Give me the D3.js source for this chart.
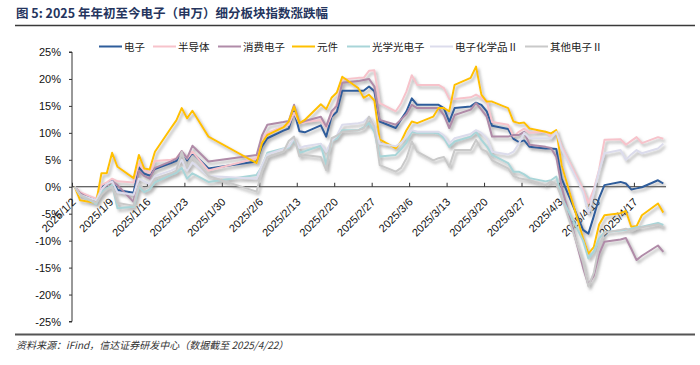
<!DOCTYPE html>
<html>
<head>
<meta charset="utf-8">
<script src="https://cdn.jsdelivr.net/npm/d3@7"></script>
<style>
  body { margin: 0; background: #fff; }
  svg text { font-family: "Liberation Sans", Arial, "Noto Sans CJK SC", sans-serif; }
  .cjk { font-family: "Noto Sans CJK SC", sans-serif; }
</style>
</head>
<body>
<svg id="chart" width="700" height="365"></svg>
<script>
const dates = [
  '2025-01-02','2025-01-03','2025-01-06','2025-01-07','2025-01-08','2025-01-09','2025-01-10','2025-01-13','2025-01-14','2025-01-15',
  '2025-01-16','2025-01-17','2025-01-20','2025-01-21','2025-01-22','2025-01-23','2025-01-24','2025-01-27',
  '2025-02-05','2025-02-06','2025-02-07','2025-02-10','2025-02-11','2025-02-12','2025-02-13','2025-02-14','2025-02-17','2025-02-18',
  '2025-02-19','2025-02-20','2025-02-21','2025-02-24','2025-02-25','2025-02-26','2025-02-27','2025-02-28',
  '2025-03-03','2025-03-04','2025-03-05','2025-03-06','2025-03-07','2025-03-10','2025-03-11','2025-03-12','2025-03-13','2025-03-14',
  '2025-03-17','2025-03-18','2025-03-19','2025-03-20','2025-03-21','2025-03-24','2025-03-25','2025-03-26','2025-03-27','2025-03-28','2025-03-31',
  '2025-04-01','2025-04-02','2025-04-03','2025-04-07','2025-04-08','2025-04-09','2025-04-10','2025-04-11','2025-04-14','2025-04-15',
  '2025-04-16','2025-04-17','2025-04-18','2025-04-21','2025-04-22'
];

// % change since start of year, one value per trading day
const dianzi = [
  0, -1.4, -2.5, 0.0, 0.6, 1.2, -0.6, -1.1, 3.6, 2.4, 2.1, 3.3, 4.4, 4.8, 6.3, 4.9, 6.3, 3.4,
  4.7, 7.5, 9.0, 10.4, 10.8, 14.0, 10.3, 10.1, 11.4, 9.3, 13.0, 13.9, 17.8, 17.8, 17.8, 18.6, 17.7, 12.1,
  10.9, 12.5, 14.0, 16.4, 15.2, 15.2, 15.2, 14.6, 12.1, 14.6, 14.9, 15.6, 15.2, 14.0, 11.3, 10.7, 8.9, 8.3, 8.6, 7.4, 7.1,
  7.1, 7.0, 1.5, -8.0, -8.7, -5.5, -2.1, 0.3, 0.9, 0.6, -0.5, -0.3, -0.1, 1.2, 0.6
];
const bandaoti = [
  0, -1.0, -2.2, 0.3, 0.8, 1.5, 1.0, 0.8, 4.3, 3.0, 2.5, 4.8, 5.0, 5.3, 6.6, 5.2, 6.5, 3.0,
  5.3, 9.0, 10.0, 11.2, 11.5, 13.7, 11.8, 12.0, 12.4, 11.0, 13.3, 15.5, 19.9, 20.2, 20.2, 21.5, 21.6, 15.5,
  14.0, 15.5, 17.7, 20.7, 18.9, 18.9, 18.9, 18.3, 16.3, 16.3, 16.6, 17.1, 16.5, 15.8, 12.0, 11.5, 9.3, 10.2, 10.8, 10.0, 10.2,
  9.3, 10.2, 7.5, -0.5, -3.0, -0.5, 3.2, 8.7, 8.8, 7.8, 8.5, 9.2, 8.1, 9.2, 8.9
];
const xiaofei = [
  0, -1.2, -3.0, -0.5, 0.3, 1.0, 0.3, -2.8, 3.0, 2.0, 1.5, 3.5, 4.7, 5.2, 6.6, 5.3, 7.6, 4.7,
  5.9, 9.5, 11.5, 12.0, 12.2, 15.2, 11.8, 12.2, 13.0, 11.2, 14.0, 15.0, 19.3, 19.6, 19.8, 20.0, 18.6, 12.4,
  11.5, 12.5, 13.5, 15.2, 14.6, 14.6, 14.6, 13.3, 10.9, 13.3, 14.3, 15.5, 14.3, 13.0, 9.3, 9.3, 9.6, 9.6, 10.2, 7.8, 7.4,
  7.2, 5.5, 0.0, -15.0, -18.2, -16.5, -12.5, -10.2, -9.8, -9.5, -11.5, -13.6, -12.8, -10.9, -12.1
];
const yuanjian = [
  0, -2.5, -3.0, 2.5, 2.5, 6.3, 3.7, 1.6, 5.9, 3.4, 3.2, 6.5, 10.9, 12.3, 14.6, 12.7, 14.1, 9.3,
  4.4, 8.1, 9.6, 11.0, 12.1, 14.9, 11.8, 12.4, 15.3, 14.4, 16.5, 17.5, 20.4, 18.3, 16.5, 17.1, 16.0, 8.8,
  7.1, 8.4, 10.5, 12.1, 11.8, 13.0, 14.6, 14.6, 14.0, 18.9, 20.2, 22.3, 17.1, 15.8, 15.8, 14.6, 12.1, 11.8, 11.9, 10.8, 10.2,
  9.9, 10.5, 4.0, -9.5, -12.4, -11.2, -7.0, -5.3, -4.9, -4.5, -7.4, -7.3, -5.3, -3.1, -4.8
];
const guangdian = [
  0, -1.5, -3.2, -1.0, -0.3, 0.3, -4.0, -3.7, 0.0, -1.0, -0.5, 0.8, 2.2, 2.6, 3.5, 1.5, 2.5, 0.9,
  2.2, 3.8, 6.3, 7.1, 7.3, 8.8, 6.3, 6.6, 7.6, 4.2, 8.5, 9.0, 10.5, 10.5, 11.0, 11.8, 10.2, 5.6,
  5.9, 7.0, 8.2, 10.2, 10.0, 10.0, 9.9, 9.0, 7.4, 8.4, 9.3, 10.2, 8.7, 7.5, 5.9, 4.4, 2.8, 2.8, 2.3, 1.6, 1.0,
  1.2, 1.9, -2.0, -10.0, -13.3, -12.0, -9.6, -8.4, -8.1, -8.0, -7.8, -7.5, -7.4, -6.7, -7.1
];
const huaxuepin = [
  0, -1.5, -2.5, -0.5, 0.5, 1.0, -1.0, -1.5, 1.5, 1.0, 0.5, 2.0, 3.0, 3.5, 5.0, 3.0, 4.5, 2.0,
  1.5, 4.0, 6.0, 7.0, 7.5, 9.0, 7.2, 7.5, 8.0, 6.5, 8.5, 9.5, 11.5, 11.8, 12.0, 13.0, 11.5, 8.0,
  7.5, 8.2, 9.3, 10.5, 10.2, 10.2, 10.2, 9.5, 8.0, 9.0, 9.8, 10.5, 10.0, 9.0, 6.5, 6.0, 6.5, 8.0, 10.0, 9.0, 9.0,
  9.0, 10.2, 7.0, -1.0, -5.0, -1.0, 3.0, 6.2, 6.8, 5.0, 6.0, 6.8, 6.2, 7.1, 8.0
];
const qita = [
  0, -1.5, -3.0, -1.5, -0.5, 0.0, -3.0, -3.5, 0.5, -0.5, 0.0, 1.5, 2.5, 3.0, 6.5, 3.5, 5.5, 2.0,
  -0.9, 3.0, 5.5, 6.5, 8.5, 9.3, 5.6, 5.9, 5.5, 3.1, 9.0, 9.5, 10.2, 10.5, 10.8, 13.0, 11.2, 4.0,
  2.8, 3.5, 5.3, 8.4, 6.5, 4.9, 5.3, 5.5, 3.7, 6.8, 6.8, 8.7, 7.0, 6.5, 4.9, 3.4, 2.0, 1.6, 1.4, 1.2, 0.3,
  1.0, 0.5, -2.0, -14.0, -18.5, -16.0, -11.0, -8.5, -8.0, -7.8, -8.2, -7.8, -7.5, -7.0, -7.5
];

const seriesNames = ['电子', '半导体', '消费电子', '元件', '光学光电子', '电子化学品Ⅱ', '其他电子Ⅱ'];
const seriesValues = [dianzi, bandaoti, xiaofei, yuanjian, guangdian, huaxuepin, qita];
const seriesColors = ['#2e5d9b', '#f7c3cb', '#b08ba8', '#ffc000', '#a8d5d8', '#dcdcec', '#c9c9c9'];
const yTicks = [-25, -20, -15, -10, -5, 0, 5, 10, 15, 20, 25];
const xTickDates = ['2025-01-02','2025-01-09','2025-01-16','2025-01-23','2025-01-30','2025-02-06','2025-02-13','2025-02-20',
  '2025-02-27','2025-03-06','2025-03-13','2025-03-20','2025-03-27','2025-04-03','2025-04-10','2025-04-17'];

function drawChart() {
  const svg = d3.select('svg#chart');
  const parse = d3.utcParse('%Y-%m-%d');
  const fmt = d3.utcFormat('%Y/%-m/%-d');
  const half = 12 * 3600 * 1000;

  const x = d3.scaleUtc()
    .domain([parse('2025-01-02'), parse('2025-04-23')])
    .range([72, 666]);
  const y = d3.scaleLinear().domain([-25, 25]).range([321.5, 52]);

  // title
  svg.append('text')
    .attr('class', 'cjk')
    .attr('x', 16).attr('y', 18)
    .attr('font-size', 12.5).attr('font-weight', 'bold')
    .attr('fill', '#25355e')
    .text('图 5:  2025 年年初至今电子（申万）细分板块指数涨跌幅');
  svg.append('line')
    .attr('x1', 15).attr('x2', 695).attr('y1', 25.5).attr('y2', 25.5)
    .attr('stroke', '#3a3a3a').attr('stroke-width', 1.3);

  // shadow under the lines
  const defs = svg.append('defs');
  defs.append('filter').attr('id', 'shadow')
    .attr('x', '-5%').attr('y', '-5%').attr('width', '110%').attr('height', '115%')
    .append('feDropShadow')
    .attr('dx', 2).attr('dy', 2.5).attr('stdDeviation', 1.5)
    .attr('flood-color', '#777').attr('flood-opacity', 0.6);

  // y axis
  const yAxis = svg.append('g').attr('transform', 'translate(72,0)')
    .call(d3.axisLeft(y).tickValues(yTicks).tickSize(3).tickPadding(8)
      .tickFormat((d) => d + '%'));
  yAxis.select('.domain').attr('stroke', '#333').attr('d', `M-3,${y(25)}H0V${y(-25)}H-3`);
  yAxis.selectAll('.tick line').attr('stroke', '#333');
  yAxis.selectAll('text').attr('font-size', 11).attr('fill', '#111')
    .attr('font-family', '"Liberation Sans", Arial, sans-serif');

  // x axis at zero
  const xAxis = svg.append('g').attr('transform', `translate(0,${y(0)})`)
    .call(d3.axisBottom(x).tickValues(xTickDates.map(parse)).tickSize(-4).tickFormat(fmt));
  xAxis.select('.domain').attr('stroke', '#333').attr('d', `M72,0H666`);
  xAxis.selectAll('.tick line').attr('stroke', '#333');
  xAxis.selectAll('.tick text')
    .attr('font-size', 11).attr('fill', '#111')
    .attr('font-family', '"Liberation Sans", Arial, sans-serif')
    .attr('text-anchor', 'end')
    .attr('dy', null)
    .attr('y', null)
    .attr('transform', 'translate(4,16) rotate(-45)');

  // series lines
  const line = d3.line()
    .x((d) => x(new Date(parse(d.date).getTime() + half)))
    .y((d) => y(d.value));

  const plot = svg.append('g').attr('filter', 'url(#shadow)');
  seriesValues.forEach((vals, i) => {
    const pts = vals.map((v, j) => ({date: dates[j], value: v}));
    plot.append('path')
      .datum(pts)
      .attr('fill', 'none')
      .attr('stroke', seriesColors[i])
      .attr('stroke-width', 2)
      .attr('stroke-linejoin', 'round')
      .attr('d', line);
  });

  // legend
  const legendX = [99, 153, 218, 292, 347, 430, 525];
  const legend = svg.append('g');
  seriesNames.forEach((name, i) => {
    const g = legend.append('g').attr('transform', `translate(${legendX[i]},46.5)`);
    g.append('line').attr('x1', 0).attr('x2', 23).attr('y1', 0).attr('y2', 0)
      .attr('stroke', seriesColors[i]).attr('stroke-width', 2);
    g.append('text').attr('class', 'cjk')
      .attr('x', 25).attr('y', 4)
      .attr('font-size', 10.5).attr('fill', '#222')
      .text(name);
  });

  // footer
  svg.append('line')
    .attr('x1', 15).attr('x2', 695).attr('y1', 334.5).attr('y2', 334.5)
    .attr('stroke', '#555').attr('stroke-width', 2);
  svg.append('text')
    .attr('class', 'cjk')
    .attr('x', 16).attr('y', 349)
    .attr('font-size', 10).attr('font-style', 'italic')
    .attr('fill', '#333')
    .text('资料来源：iFind，信达证券研发中心（数据截至 2025/4/22）');
}

window.addEventListener('load', function() {
  drawChart();
});
</script>
</body>
</html>
